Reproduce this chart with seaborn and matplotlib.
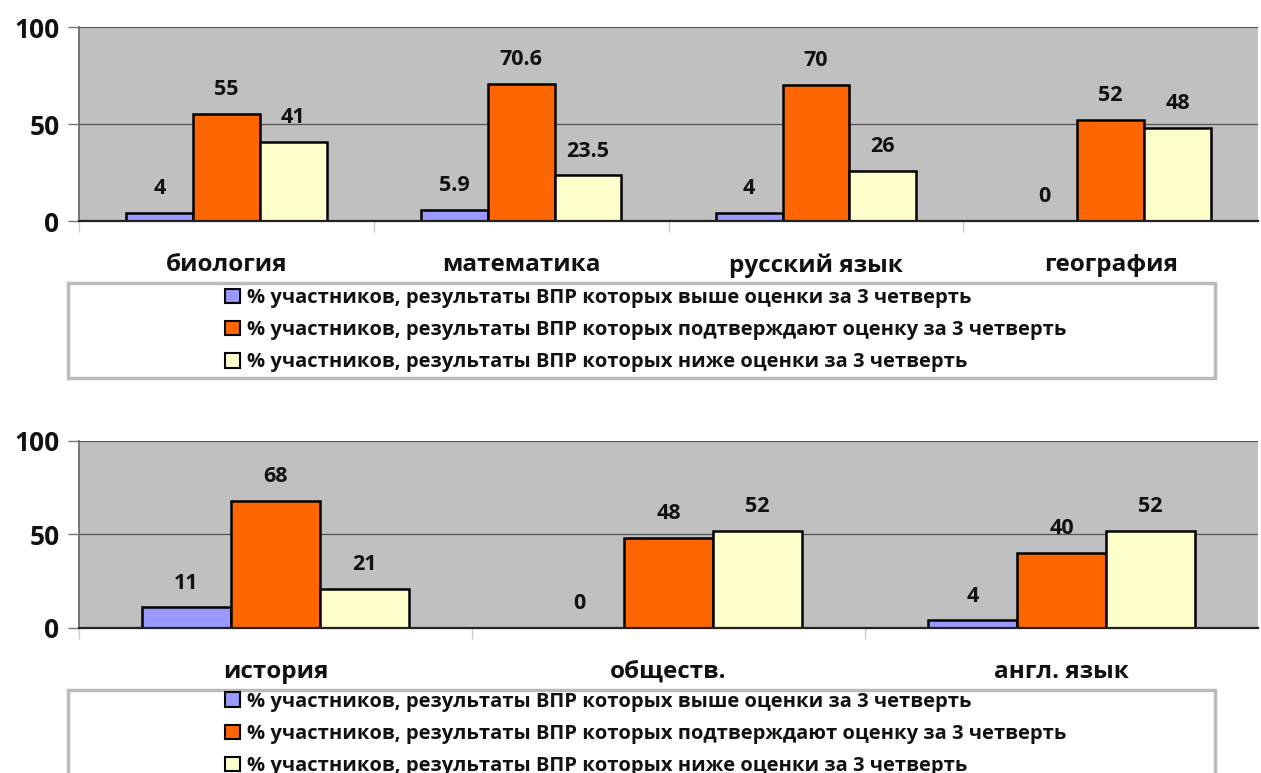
import matplotlib
matplotlib.use("Agg")
import matplotlib.pyplot as plt
import seaborn as sns
import pandas as pd
from matplotlib.patches import Patch, Rectangle
from matplotlib.ticker import FixedLocator

# данные
series = [
    "% участников, результаты ВПР которых выше оценки за 3 четверть",
    "% участников, результаты ВПР которых подтверждают оценку за 3 четверть",
    "% участников, результаты ВПР которых ниже оценки за 3 четверть",
]
colors = ["#9999ff", "#ff6600", "#ffffcc"]

subjects_top = ["биология", "математика", "русский язык", "география"]
above_top = [4, 5.9, 4, 0]
confirm_top = [55, 70.6, 70, 52]
below_top = [41, 23.5, 26, 48]

subjects_bot = ["история", "обществ.", "англ. язык"]
above_bot = [11, 0, 4]
confirm_bot = [68, 48, 40]
below_bot = [21, 52, 52]

sns.set_theme(style="white")
plt.rcParams['font.family'] = ['Open Sans', 'DejaVu Sans']
plt.rcParams['font.weight'] = 'bold'
plt.rcParams['text.color'] = '#111111'
plt.rcParams['xtick.color'] = '#111111'
plt.rcParams['ytick.color'] = '#111111'


def to_long(subjects, a, c, b):
    rows = []
    for vals, s in zip([a, c, b], series):
        for subj, v in zip(subjects, vals):
            rows.append({"Предмет": subj, "Серия": s, "Значение": v})
    return pd.DataFrame(rows)


def draw_panel(ax, df, subjects):
    sns.barplot(data=df, x="Предмет", y="Значение", hue="Серия",
                order=subjects, hue_order=series, palette=colors,
                width=0.68, edgecolor="black", linewidth=1.8,
                saturation=1, legend=False, ax=ax)
    for cont in ax.containers:
        labels = [f"{v:g}" for v in cont.datavalues]
        ax.bar_label(cont, labels=labels, padding=10, fontsize=15.5,
                     fontweight='bold', color='#111111')
        # нулевые столбцы без контура
        for bar, v in zip(cont.patches, cont.datavalues):
            if v == 0:
                bar.set_linewidth(0)
    ax.set_facecolor("#c0c0c0")
    ax.set_ylim(0, 100)
    ax.set_xlim(-0.5, len(subjects) - 0.5)
    ax.set_yticks([0, 50, 100])
    ax.yaxis.grid(True, color="#555555", linewidth=0.9)
    ax.set_axisbelow(True)
    ax.set_xlabel("")
    ax.set_ylabel("")
    ax.tick_params(axis='y', left=True, length=8, width=1, color="#777777",
                   labelcolor="#111111", labelsize=19, pad=6)
    ax.tick_params(axis='x', bottom=False, labelcolor="#111111", labelsize=17.5, pad=17)
    ax.xaxis.set_minor_locator(FixedLocator([i - 0.5 for i in range(len(subjects))]))
    ax.tick_params(axis='x', which='minor', bottom=True, length=8, width=1, color="#cccccc")
    for lab in ax.get_xticklabels() + ax.get_yticklabels():
        lab.set_fontweight('bold')
    for side in ["top", "right"]:
        ax.spines[side].set_visible(False)
    ax.spines["left"].set_color("#666666")
    ax.spines["left"].set_linewidth(1.2)
    ax.spines["bottom"].set_color("#222222")
    ax.spines["bottom"].set_linewidth(1.6)


def draw_legend(fig, y_top, y_bottom, y_center):
    box = Rectangle((0.054, y_bottom), 0.9095, y_top - y_bottom, transform=fig.transFigure,
                    facecolor="white", edgecolor="#bbbbbb", linewidth=2.5, zorder=0)
    fig.patches.append(box)
    handles = [Patch(facecolor=c, edgecolor="black", linewidth=1.5) for c in colors]
    fig.legend(handles, series, loc="center", bbox_to_anchor=(0.512, y_center),
               frameon=False, handlelength=0.75, handleheight=0.75,
               handletextpad=0.3, labelspacing=0.6, borderpad=0,
               prop={'weight': 'bold', 'size': 14.5})


fig = plt.figure(figsize=(12.61, 7.73), dpi=100)
ax1 = fig.add_axes([0.0627, 0.714, 0.935, 0.251])
ax2 = fig.add_axes([0.0627, 0.1876, 0.935, 0.2422])

draw_panel(ax1, to_long(subjects_top, above_top, confirm_top, below_top), subjects_top)
draw_panel(ax2, to_long(subjects_bot, above_bot, confirm_bot, below_bot), subjects_bot)

draw_legend(fig, 0.634, 0.511, 0.573)
draw_legend(fig, 0.107, -0.05, 0.0505)

fig.savefig("out.png", dpi=100)
